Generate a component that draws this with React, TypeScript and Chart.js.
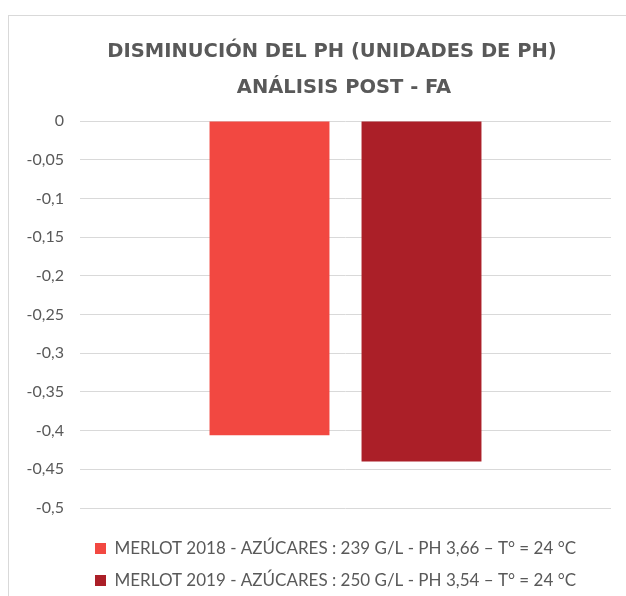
import React, { useEffect, useRef } from "react";
import { Chart, registerables } from "chart.js";

Chart.register(...registerables);

const categories: string[] = [""];
const seriesNames: string[] = [
  "MERLOT 2018 - AZÚCARES : 239 G/L - PH 3,66 – T° = 24 °C",
  "MERLOT 2019 - AZÚCARES : 250 G/L - PH 3,54 – T° = 24 °C",
];
const merlot2018: number[] = [-0.406];
const merlot2019: number[] = [-0.44];
const titleLines: string[] = ["DISMINUCIÓN DEL PH (UNIDADES DE PH)", "ANÁLISIS POST - FA"];
const yMin = -0.5;
const yMax = 0;
const yStep = 0.05;

const GRAY = "#595959";

const titlePlugin = {
  id: "customTitle",
  afterDraw(chart: any) {
    const ctx = chart.ctx;
    ctx.save();
    ctx.fillStyle = GRAY;
    ctx.font = "bold 19.5px 'DejaVu Sans'";
    ctx.textAlign = "center";
    ctx.textBaseline = "middle";
    ctx.fillText(titleLines[0], 323, 36);
    ctx.fillText(titleLines[1], 335, 72);
    ctx.restore();
  },
};

export default function App() {
  const ref = useRef<HTMLCanvasElement | null>(null);
  useEffect(() => {
    if (!ref.current) return;
    const chart = new Chart(ref.current, {
      type: "bar",
      data: {
        labels: categories,
        datasets: [
          {
            label: seriesNames[0],
            data: merlot2018,
            backgroundColor: "#F24841",
            categoryPercentage: 0.5725,
            barPercentage: 0.789,
          },
          {
            label: seriesNames[1],
            data: merlot2019,
            backgroundColor: "#AB1F28",
            categoryPercentage: 0.5725,
            barPercentage: 0.789,
          },
        ],
      },
      options: {
        animation: false,
        responsive: false,
        maintainAspectRatio: false,
        layout: { padding: { top: 105, left: 0, right: 15, bottom: 0 } },
        plugins: {
          title: { display: false },
          tooltip: { enabled: false },
          legend: {
            position: "bottom",
            align: "start",
            fullSize: false,
            labels: {
              boxWidth: 11,
              boxHeight: 11,
              padding: 15,
              color: GRAY,
              font: { family: "Lato", size: 17 },
            },
          },
        },
        scales: {
          x: {
            display: true,
            grid: { display: false },
            border: { display: false },
            ticks: { display: false },
            afterFit: (axis: any) => {
              axis.height = 17;
            },
          },
          y: {
            min: yMin,
            max: yMax,
            grid: { color: "#d9d9d9", drawTicks: false, lineWidth: 1 },
            border: { display: false },
            ticks: {
              stepSize: yStep,
              padding: 16,
              color: GRAY,
              font: { family: "Lato", size: 16 },
              callback: (v: any) => {
                const n = Math.round(Number(v) * 100) / 100;
                return n === 0 ? "0" : String(n).replace(".", ",");
              },
            },
            afterFit: (axis: any) => {
              axis.width = 71;
            },
          },
        },
      },
      plugins: [titlePlugin],
    });
    return () => chart.destroy();
  }, []);
  return (
    <div
      style={{
        position: "absolute",
        left: 8,
        top: 15,
        width: 618,
        height: 581,
        overflow: "hidden",
        borderLeft: "1px solid #d9d9d9",
        borderTop: "1px solid #d9d9d9",
        background: "#fff",
      }}
    >
      <canvas ref={ref} width={617} height={583} style={{ display: "block" }} />
    </div>
  );
}
